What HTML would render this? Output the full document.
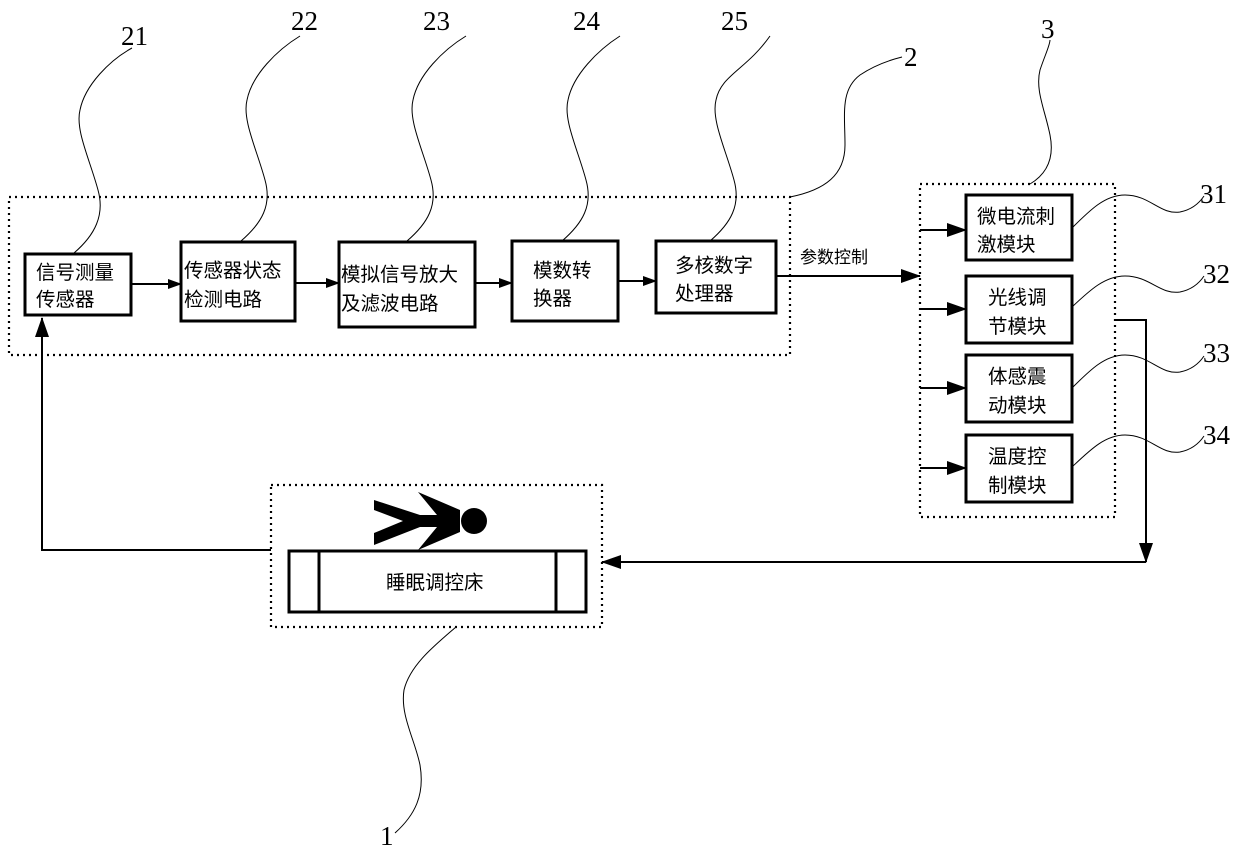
<!DOCTYPE html>
<html><head><meta charset="utf-8"><style>
html,body{margin:0;padding:0;background:#fff}
svg{display:block}
text{font-family:"Liberation Sans","Noto Sans CJK SC",sans-serif;fill:#000}
.n text{font-family:"Liberation Serif","Noto Serif CJK SC",serif;font-size:27px}
.c text{font-size:19.5px}
</style></head><body>
<svg width="1240" height="854" viewBox="0 0 1240 854" xmlns="http://www.w3.org/2000/svg">
<defs>
<marker id="a" markerWidth="14" markerHeight="10" refX="13" refY="5" orient="auto" markerUnits="userSpaceOnUse"><path d="M0,0 L14,5 L0,10 z" fill="#000"/></marker>
<marker id="b" markerWidth="20" markerHeight="14" refX="19" refY="7" orient="auto" markerUnits="userSpaceOnUse"><path d="M0,0 L20,7 L0,14 z" fill="#000"/></marker>
</defs>
<g fill="none" stroke="#000" stroke-width="2.2" stroke-dasharray="2,4">
<rect x="9" y="197" width="781" height="158"/>
<rect x="920" y="184" width="195" height="333"/>
<rect x="271" y="485" width="331" height="142"/>
</g>
<g fill="#fff" stroke="#000" stroke-width="3">
<rect x="25" y="254" width="106" height="61"/>
<rect x="181" y="242" width="114" height="79"/>
<rect x="339" y="242" width="136" height="85"/>
<rect x="512" y="241" width="106" height="80"/>
<rect x="656" y="241" width="120" height="72"/>
<rect x="966" y="195" width="106" height="65"/>
<rect x="966" y="276" width="106" height="67"/>
<rect x="966" y="355" width="106" height="67"/>
<rect x="966" y="435" width="106" height="67"/>
<rect x="289" y="551" width="297" height="61"/>
<line x1="319" y1="551" x2="319" y2="612"/>
<line x1="556" y1="551" x2="556" y2="612"/>
</g>
<g fill="#000">
<path d="M374,500 L420,515 L437,515 L418,492 L460,510 L460,532 L418,550 L437,527 L420,527 L374,545 L374,533 L403,521 L374,510 z"/>
<circle cx="474" cy="521" r="13"/>
</g>
<g stroke="#000" stroke-width="2" fill="none">
<line x1="131" y1="284" x2="181" y2="284" marker-end="url(#a)"/>
<line x1="295" y1="283" x2="339" y2="283" marker-end="url(#a)"/>
<line x1="475" y1="283" x2="512" y2="283" marker-end="url(#a)"/>
<line x1="618" y1="281" x2="656" y2="281" marker-end="url(#a)"/>
<line x1="776" y1="276" x2="920" y2="276" marker-end="url(#b)"/>
<line x1="920" y1="230" x2="966" y2="230" marker-end="url(#b)"/>
<line x1="920" y1="309" x2="966" y2="309" marker-end="url(#b)"/>
<line x1="920" y1="388" x2="966" y2="388" marker-end="url(#b)"/>
<line x1="920" y1="468" x2="966" y2="468" marker-end="url(#b)"/>
<polyline points="1115,320 1146,320 1146,562" marker-end="url(#b)"/>
<line x1="1146" y1="562" x2="602" y2="562" marker-end="url(#b)"/>
<polyline points="271,550 42,550 42,318" marker-end="url(#b)"/>
</g>
<g stroke="#000" stroke-width="1" fill="none">
<path d="M74,253 C95,235 105,215 98,190 C90,160 75,130 80,110 C85,85 110,60 132,48"/>
<path d="M241,241 C262,223 272,205 265,180 C257,150 242,120 247,100 C252,75 277,50 300,36"/>
<path d="M407,241 C428,223 438,205 431,180 C423,150 408,120 413,100 C418,75 443,50 466,36"/>
<path d="M562,241 C583,223 593,205 586,180 C578,150 563,120 568,100 C573,75 598,50 620,36"/>
<path d="M710,241 C731,223 741,205 734,180 C726,150 711,120 716,100 C721,75 746,70 770,36"/>
<path d="M790,197 C825,190 845,175 845,145 C845,115 840,90 860,75 C875,65 890,60 902,57"/>
<path d="M1030,184 C1045,175 1055,160 1050,135 C1045,110 1035,90 1040,70 C1045,55 1050,45 1050,40"/>
<path d="M1072,228 C1090,210 1105,195 1125,195 C1150,195 1160,215 1180,212 C1190,210 1198,205 1204,196"/>
<path d="M1072,307 C1090,290 1105,276 1125,276 C1150,276 1160,295 1180,292 C1190,290 1198,285 1204,276"/>
<path d="M1072,388 C1090,370 1105,355 1125,355 C1150,355 1160,375 1180,372 C1190,370 1198,365 1204,356"/>
<path d="M1072,467 C1090,450 1105,435 1125,435 C1150,435 1160,455 1180,452 C1190,450 1198,445 1204,436"/>
<path d="M456,627 C435,645 410,665 404,690 C400,715 415,740 420,765 C425,795 415,815 395,833"/>
</g>
<g class="n">
<text x="121" y="45">21</text>
<text x="291" y="30">22</text>
<text x="423" y="30">23</text>
<text x="573" y="30">24</text>
<text x="721" y="30">25</text>
<text x="904" y="66">2</text>
<text x="1041" y="38">3</text>
<text x="1200" y="203">31</text>
<text x="1203" y="283">32</text>
<text x="1203" y="362">33</text>
<text x="1203" y="444">34</text>
<text x="380" y="845">1</text>
</g>
<g class="c">
<text x="36" y="279">信号测量</text>
<text x="36" y="306">传感器</text>
<text x="184" y="277">传感器状态</text>
<text x="184" y="306">检测电路</text>
<text x="341" y="281">模拟信号放大</text>
<text x="341" y="310">及滤波电路</text>
<text x="533" y="277">模数转</text>
<text x="533" y="305">换器</text>
<text x="675" y="272">多核数字</text>
<text x="675" y="300">处理器</text>
<text x="800" y="263" style="font-size:17px">参数控制</text>
<text x="977" y="223">微电流刺</text>
<text x="977" y="251">激模块</text>
<text x="988" y="304">光线调</text>
<text x="988" y="333">节模块</text>
<text x="988" y="383">体感震</text>
<text x="988" y="412">动模块</text>
<text x="988" y="463">温度控</text>
<text x="988" y="492">制模块</text>
<text x="386" y="589">睡眠调控床</text>
</g>
</svg>
</body></html>
